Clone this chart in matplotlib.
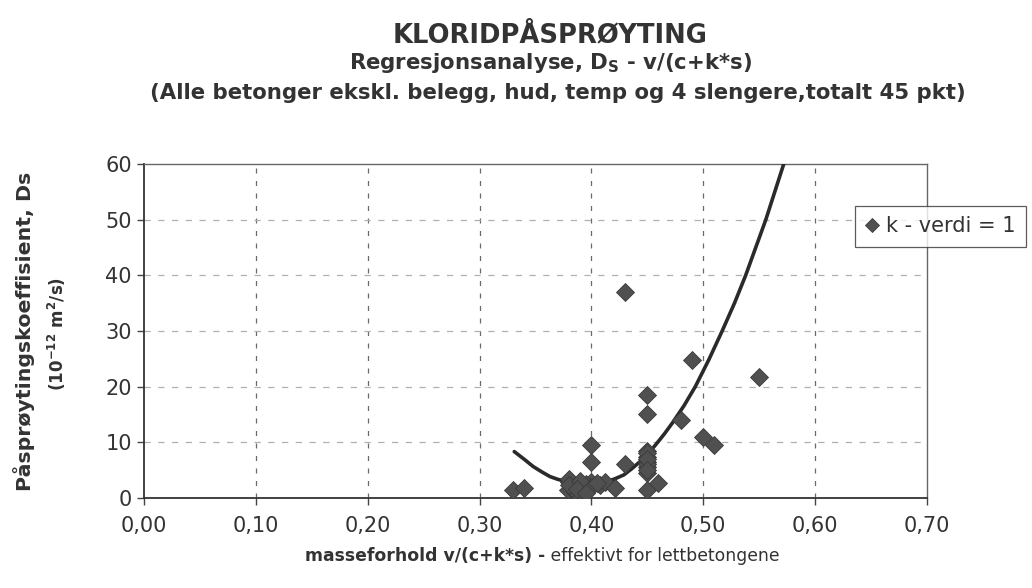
import numpy as np
import matplotlib
matplotlib.use("Agg")
import matplotlib.pyplot as plt

plt.rcParams['font.family'] = ['DejaVu Sans']
plt.rcParams['mathtext.fontset'] = 'custom'
plt.rcParams['mathtext.rm'] = 'DejaVu Sans:bold'
plt.rcParams['mathtext.it'] = 'DejaVu Sans:bold'
plt.rcParams['mathtext.bf'] = 'DejaVu Sans:bold'

# measured points: v/(c+k*s) vs Ds (10^-12 m2/s)
vc = [0.330, 0.340, 0.380, 0.379, 0.385, 0.390, 0.391, 0.380, 0.397, 0.385,
      0.400, 0.408, 0.412, 0.421, 0.400, 0.400, 0.430, 0.430, 0.450, 0.450,
      0.450, 0.450, 0.450, 0.450, 0.450, 0.450, 0.460, 0.480, 0.490, 0.500,
      0.510, 0.550, 0.390, 0.395, 0.383, 0.400, 0.450, 0.450, 0.380, 0.390,
      0.405, 0.450, 0.450, 0.387, 0.395]
ds = [1.4, 1.8, 2.9, 1.4, 2.0, 0.5, 2.6, 3.3, 1.7, 1.0,
      2.9, 2.3, 2.9, 1.7, 9.5, 6.5, 6.0, 37.0, 18.5, 15.1,
      8.4, 7.4, 6.5, 5.5, 4.5, 1.4, 2.7, 13.9, 24.8, 11.0,
      9.4, 21.8, 1.2, 2.4, 1.8, 2.0, 8.0, 6.0, 2.2, 3.0,
      2.6, 7.0, 5.0, 1.5, 0.9]

# trend line
trend_x = [0.331, 0.340, 0.348, 0.356, 0.363, 0.370, 0.378, 0.387, 0.396, 0.405,
           0.414, 0.421, 0.429, 0.436, 0.443, 0.451, 0.457, 0.465, 0.473, 0.483,
           0.493, 0.505, 0.517, 0.528, 0.538, 0.547, 0.556, 0.564, 0.572]
trend_y = [8.3, 6.9, 5.6, 4.6, 3.8, 3.3, 2.9, 2.7, 2.6, 2.7,
           2.9, 3.4, 4.1, 5.2, 6.4, 8.0, 9.4, 11.4, 13.6, 16.6,
           20.0, 24.8, 30.0, 35.0, 40.0, 45.0, 50.0, 55.0, 60.0]

xticks = [0.0, 0.1, 0.2, 0.3, 0.4, 0.5, 0.6, 0.7]
xticklabels = ['0,00', '0,10', '0,20', '0,30', '0,40', '0,50', '0,60', '0,70']
yticks = [0, 10, 20, 30, 40, 50, 60]

W, H = 1032, 588
fig = plt.figure(figsize=(W / 100, H / 100), dpi=100)
ax = fig.add_axes([144.3 / W, 1 - 497.7 / H, (926.7 - 144.3) / W, (497.7 - 164.3) / H])

ax.set_xlim(0, 0.7)
ax.set_ylim(0, 60)
ax.set_xticks(xticks)
ax.set_xticklabels(xticklabels)
ax.set_yticks(yticks)

for x in xticks[1:-1]:
    ax.axvline(x, color='#6a6a6a', lw=0.9, ls=(0, (4, 6)), zorder=1)
for y in yticks[1:-1]:
    ax.axhline(y, color='#b0b0b0', lw=0.9, ls=(0, (5, 6)), zorder=1)

ax.plot(trend_x, trend_y, color='#2a2a2a', lw=2.6, solid_capstyle='round', zorder=3)
ax.plot(vc, ds, ls='none', marker='D', ms=9, mfc='#505050', mec='#3a3a3a', mew=0.6,
        zorder=4, label='k - verdi = 1')

for side in ['left', 'bottom']:
    ax.spines[side].set_color('#333333')
    ax.spines[side].set_linewidth(1.3)
for side in ['top', 'right']:
    ax.spines[side].set_color('#666666')
    ax.spines[side].set_linewidth(1.0)

ax.tick_params(axis='both', direction='out', length=5, width=1, color='#444444',
               labelsize=15, labelcolor='#333333')
ax.tick_params(axis='x', pad=8)
ax.tick_params(axis='y', pad=4)

txt = dict(color='#333333', fontweight='bold')
renderer = fig.canvas.get_renderer()


def fit(items, width=None, height=None):
    # scale font so that the text block spans the measured size in pixels
    bbs = [t.get_window_extent(renderer) for t in items]
    if width:
        k = width / sum(b.width for b in bbs)
    else:
        k = height / sum(b.height for b in bbs)
    for t in items:
        t.set_fontsize(t.get_fontsize() * k)


# titles
t = fig.text(550 / W, 1 - 35 / H, 'KLORIDPÅSPRØYTING', ha='center', va='center',
             fontsize=17, **txt)
fit([t], width=316)
t = fig.text(550 / W, 1 - 63 / H, r'Regresjonsanalyse, D$_\mathrm{S}$ - v/(c+k*s)',
             ha='center', va='center', fontsize=15, **txt)
fit([t], width=405)
t = fig.text(558 / W, 1 - 93 / H,
             '(Alle betonger ekskl. belegg, hud, temp og 4 slengere,totalt 45 pkt)',
             ha='center', va='center', fontsize=15, **txt)
fit([t], width=822)

# y label, two lines
t = fig.text(24 / W, 1 - 331 / H, 'Påsprøytingskoeffisient, Ds', rotation=90,
             ha='center', va='center', fontsize=16, **txt)
fit([t], height=318)
t = fig.text(57 / W, 1 - 334 / H, r'(10$^{-12}$ m$^{2}$/s)', rotation=90,
             ha='center', va='center', fontsize=16, **txt)
fit([t], height=114)

# x label: bold part + regular part
t1 = fig.text(305 / W, 1 - 556 / H, 'masseforhold v/(c+k*s) -', ha='left', va='center',
              fontsize=13, **txt)
t2 = ax.annotate(' effektivt for lettbetongene', xy=(1, 0.5), xycoords=t1, ha='left',
                 va='center', fontsize=13, color='#333333', annotation_clip=False)
fit([t1, t2], width=472)

leg = fig.legend(loc='upper left', bbox_to_anchor=(855 / W, 1 - 206 / H), fontsize=15,
                 frameon=True, fancybox=False, shadow=False, handlelength=0.6,
                 handletextpad=0.4, borderpad=0.5, borderaxespad=0, markerscale=0.8)
leg.get_frame().set_edgecolor('#333333')
leg.get_frame().set_linewidth(0.9)
for t in leg.get_texts():
    t.set_color('#333333')

fig.savefig('out.png', dpi=100, facecolor='white')
